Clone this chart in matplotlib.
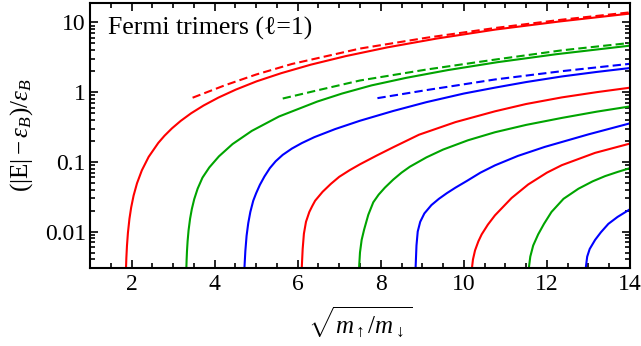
import matplotlib
matplotlib.use("Agg")
import matplotlib.pyplot as plt
from matplotlib.ticker import FixedLocator, FixedFormatter, MultipleLocator, LogLocator, NullFormatter

plt.rcParams['mathtext.fontset'] = 'custom'
plt.rcParams['mathtext.rm'] = 'Liberation Serif'
plt.rcParams['mathtext.it'] = 'Liberation Serif:italic'
plt.rcParams['mathtext.bf'] = 'Liberation Serif:bold'
plt.rcParams['font.family'] = ['Liberation Serif', 'DejaVu Serif']

# solid curves (x = sqrt(m_up/m_down), y = (|E|-eps_B)/eps_B)
red1_x = [1.86, 1.8658, 1.8751, 1.8898, 1.9131, 1.95, 1.9913, 2.0495, 2.1318, 2.2481, 2.4123,
          2.6443, 2.794, 2.972, 3.184, 3.435, 3.734, 4.089, 4.511, 5.012, 5.608, 6.317, 7.159,
          8.16, 9.349, 10.763, 12.32, 14]
red1_y = [0.00204, 0.00286, 0.00415, 0.00621, 0.00959, 0.0153, 0.0222, 0.0328, 0.0493, 0.0755,
          0.118, 0.187, 0.237, 0.302, 0.387, 0.498, 0.643, 0.834, 1.088, 1.43, 1.875, 2.48, 3.29,
          4.39, 5.875, 7.91, 10.35, 13.4]
green1_x = [3.312, 3.316, 3.32, 3.3259, 3.3351, 3.3498, 3.3731, 3.41, 3.4513, 3.5095, 3.5918,
            3.7081, 3.8723, 4.1043, 4.432, 4.895, 5.549, 6.472, 7.068, 7.777, 8.619, 9.62,
            10.809, 12.223, 14]
green1_y = [0.001, 0.00234, 0.00301, 0.00392, 0.00526, 0.00728, 0.01042, 0.01535, 0.0210,
            0.0292, 0.0413, 0.0594, 0.0832, 0.120, 0.180, 0.278, 0.447, 0.733, 0.955, 1.25,
            1.607, 2.075, 2.69, 3.50, 4.645]
blue1_x = [4.705, 4.72, 4.74, 4.77, 4.81, 4.86, 4.93, 5.0, 5.09, 5.2, 5.33, 5.47, 5.64, 5.86,
           6.1, 6.4, 6.9, 7.5, 8.3, 9.1, 10.0, 10.75, 11.5, 12.36, 13.2, 14]
blue1_y = [0.001, 0.00316, 0.00525, 0.00871, 0.0132, 0.0191, 0.0277, 0.0355, 0.0468, 0.0617,
           0.0813, 0.102, 0.126, 0.155, 0.186, 0.226, 0.295, 0.389, 0.537, 0.719, 0.955, 1.161,
           1.396, 1.679, 1.95, 2.218]
red2_x = [6.095, 6.10, 6.12, 6.15, 6.2, 6.28, 6.35, 6.42, 6.6, 6.8, 7.0, 7.25, 7.5, 7.9, 8.3,
          8.92, 9.8, 10.75, 11.5, 12.36, 13.2, 14]
red2_y = [0.001, 0.00316, 0.00562, 0.00933, 0.0138, 0.0191, 0.0232, 0.0277, 0.0372, 0.0484,
          0.061, 0.0759, 0.0923, 0.123, 0.162, 0.245, 0.372, 0.531, 0.676, 0.841, 1.0, 1.159]
green2_x = [7.475, 7.48, 7.50, 7.54, 7.6, 7.7, 7.82, 7.95, 8.1, 8.3, 8.5, 8.7, 9.1, 9.5, 10.1,
            10.75, 11.5, 12.36, 13.2, 14]
green2_y = [0.001, 0.00316, 0.00501, 0.00759, 0.0107, 0.0174, 0.0263, 0.0339, 0.0427, 0.0556,
            0.070, 0.0851, 0.116, 0.150, 0.204, 0.266, 0.339, 0.427, 0.525, 0.624]
blue2_x = [8.835, 8.84, 8.86, 8.89, 8.95, 9.05, 9.22, 9.4, 9.59, 9.8, 10.07, 10.4, 10.75, 11.3,
           11.95, 13.0, 14]
blue2_y = [0.001, 0.00316, 0.00631, 0.01, 0.0138, 0.0182, 0.024, 0.0295, 0.0355, 0.0427,
           0.0531, 0.070, 0.0891, 0.1216, 0.164, 0.248, 0.357]
red3_x = [10.195, 10.2, 10.22, 10.27, 10.35, 10.43, 10.58, 10.75, 11.15, 11.55, 12.0, 12.36,
          13.16, 14]
red3_y = [0.001, 0.00316, 0.00398, 0.00537, 0.00724, 0.00912, 0.0126, 0.0171, 0.0303, 0.0474,
          0.070, 0.0897, 0.1346, 0.183]
green3_x = [11.565, 11.57, 11.6, 11.67, 11.79, 11.93, 12.11, 12.4, 12.76, 13.1, 13.4, 13.7, 14]
green3_y = [0.001, 0.00316, 0.00437, 0.00631, 0.00912, 0.0129, 0.0191, 0.0295, 0.0412, 0.0525,
            0.0624, 0.0716, 0.0813]
blue3_x = [12.935, 12.94, 12.97, 13.03, 13.16, 13.3, 13.48, 13.7, 14]
blue3_y = [0.001, 0.00316, 0.00437, 0.00562, 0.00759, 0.00977, 0.0129, 0.0162, 0.0209]

# dashed asymptotes
red_dash_x = [3.47, 4.25, 5.0, 5.86, 7.5, 9.1, 10.75, 12.36, 14]
red_dash_y = [0.832, 1.256, 1.79, 2.535, 4.22, 6.03, 8.32, 10.96, 13.96]
green_dash_x = [5.64, 6.5, 7.5, 9.1, 10.75, 12.36, 14]
green_dash_y = [0.81, 1.07, 1.47, 2.11, 2.93, 3.98, 5.08]
blue_dash_x = [7.92, 9.1, 10.75, 12.36, 14]
blue_dash_y = [0.82, 1.07, 1.52, 2.0, 2.55]

x_ticks = [2, 4, 6, 8, 10, 12, 14]
y_ticks = [0.01, 0.1, 1, 10]
y_ticklabels = ['0.01', '0.1', '1', '10']

RED, GREEN, BLUE = '#ff0000', '#00a400', '#0000ff'

fig = plt.figure(figsize=(6.41, 3.46), dpi=100)
ax = fig.add_axes([0.1404, 0.2254, 0.8424, 0.7659])

lw = 1.5
solid = [(red1_x, red1_y, RED), (green1_x, green1_y, GREEN), (blue1_x, blue1_y, BLUE),
         (red2_x, red2_y, RED), (green2_x, green2_y, GREEN), (blue2_x, blue2_y, BLUE),
         (red3_x, red3_y, RED), (green3_x, green3_y, GREEN), (blue3_x, blue3_y, BLUE)]
for xs, ys, c in solid:
    ax.plot(xs, ys, color=c, lw=lw, solid_joinstyle='round')
for xs, ys, c in [(red_dash_x, red_dash_y, RED), (green_dash_x, green_dash_y, GREEN),
                  (blue_dash_x, blue_dash_y, BLUE)]:
    ax.plot(xs, ys, color=c, lw=lw, ls=(0, (4, 2)))

ax.set_yscale('log')
ax.set_xlim(1, 14)
ax.set_ylim(0.003, 19)

ax.xaxis.set_major_locator(FixedLocator(x_ticks))
ax.xaxis.set_minor_locator(MultipleLocator(0.5))
ax.yaxis.set_major_locator(FixedLocator(y_ticks))
ax.yaxis.set_major_formatter(FixedFormatter(y_ticklabels))
ax.yaxis.set_minor_locator(LogLocator(base=10, subs=range(2, 10)))
ax.yaxis.set_minor_formatter(NullFormatter())

ax.tick_params(which='both', direction='in', top=True, right=True, labelsize=17, width=1.2)
ax.tick_params(axis='x', pad=4)
ax.tick_params(axis='y', pad=3)
ax.tick_params(which='major', length=6)
ax.tick_params(which='minor', length=3.5)
for s in ax.spines.values():
    s.set_linewidth(1.5)

ax.set_xlabel(r'$\sqrt{m_\uparrow/m_\downarrow}$', fontsize=18, labelpad=7)
ax.set_ylabel(r'$(|\mathrm{E}|-\varepsilon_B)/\varepsilon_B$', fontsize=18, labelpad=7)
ax.text(0.033, 0.879, 'Fermi trimers (ℓ=1)', transform=ax.transAxes, fontsize=18.5,
        ha='left', va='baseline')

fig.savefig('out.png', dpi=100)
